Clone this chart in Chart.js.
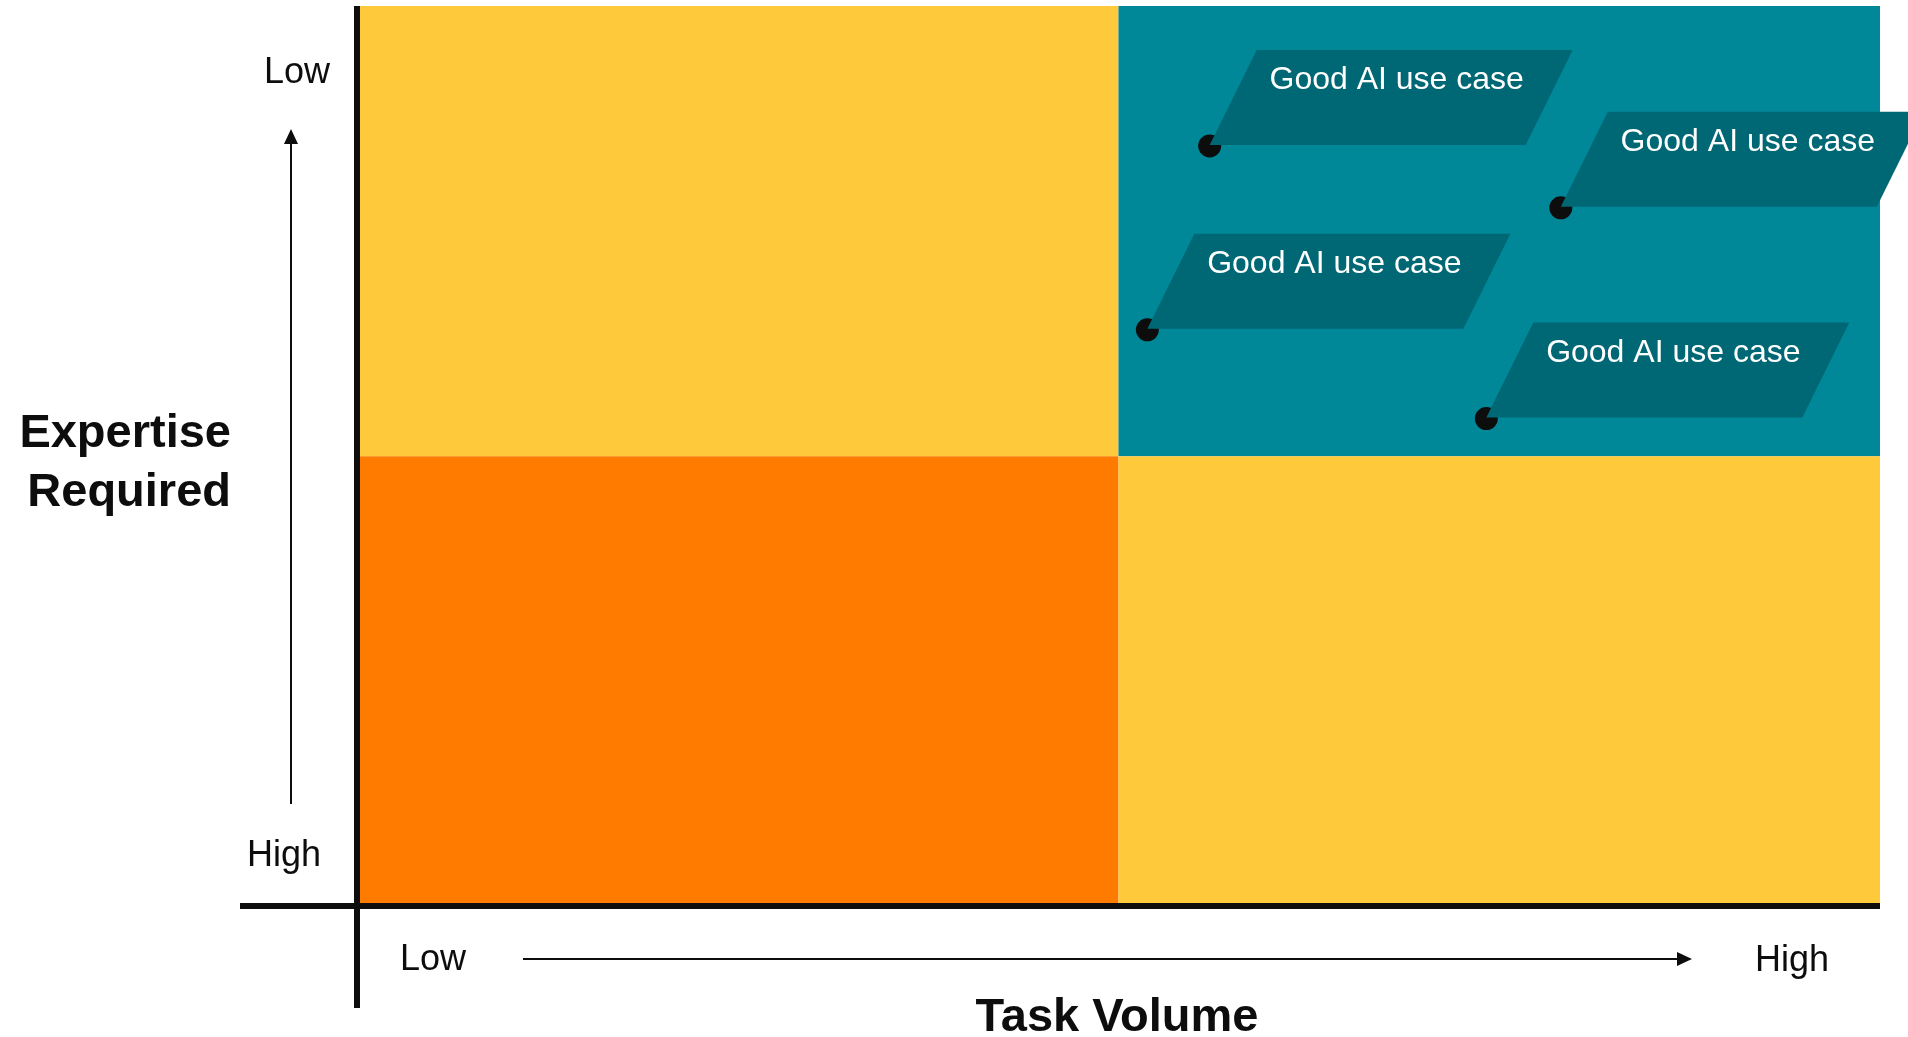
<!DOCTYPE html>
<html>
<head>
<meta charset="utf-8">
<title>Task Volume vs Expertise Required</title>
<script src="https://cdn.jsdelivr.net/npm/chart.js@4.4.1/dist/chart.umd.min.js"></script>
<style>
  html, body { margin: 0; padding: 0; background: #ffffff; }
  canvas { display: block; }
</style>
</head>
<body>
<canvas id="matrix" width="1908" height="1037"></canvas>
<script>
// task volume (0 = low, 100 = high) and expertise required (0 = low at top, 100 = high at bottom)
const pointLabels = ["Good AI use case", "Good AI use case", "Good AI use case", "Good AI use case"];
const taskVolume = [55.9, 79.0, 51.8, 74.1];
const expertise = [15.6, 22.5, 36.1, 46.0];

const xTickLabels = ["Low", "High"];
const yTickLabels = ["Low", "High"];
const xTitle = "Task Volume";
const yTitle = ["Expertise", "Required"];

// quadrants: [xFrom, xTo, yFrom, yTo]
const quadrants = [
  [0, 49.9, 0, 50.2],
  [49.9, 100, 0, 50.2],
  [0, 49.9, 50.2, 100],
  [49.9, 100, 50.2, 100],
];
const quadrantColors = ["#fec93a", "#008899", "#ff7b00", "#fec93a"];

const colors = {
  ink: "#0d0d0d",
  labelBox: "#006774",
  labelText: "#ffffff",
};
const fontFamily = "'Liberation Sans', Arial, sans-serif";

const quadrantPlugin = {
  id: "quadrants",
  beforeDatasetsDraw(chart) {
    const ctx = chart.ctx;
    const x = chart.scales.x;
    const y = chart.scales.y;
    ctx.save();
    quadrants.forEach(function (q, i) {
      const x0 = x.getPixelForValue(q[0]);
      const x1 = x.getPixelForValue(q[1]);
      const y0 = y.getPixelForValue(q[2]);
      const y1 = y.getPixelForValue(q[3]);
      ctx.fillStyle = quadrantColors[i];
      ctx.fillRect(Math.min(x0, x1), Math.min(y0, y1), Math.abs(x1 - x0), Math.abs(y1 - y0));
    });
    ctx.restore();
  },
};

// parallelogram callouts sitting on each point
const calloutPlugin = {
  id: "callouts",
  afterDatasetsDraw(chart) {
    const ctx = chart.ctx;
    const meta = chart.getDatasetMeta(0);
    ctx.save();
    meta.data.forEach(function (pt, i) {
      const px = pt.x;
      const py = pt.y;
      ctx.fillStyle = colors.labelBox;
      ctx.beginPath();
      ctx.moveTo(px, py - 1);
      ctx.lineTo(px + 47, py - 96);
      ctx.lineTo(px + 363, py - 96);
      ctx.lineTo(px + 316, py - 1);
      ctx.closePath();
      ctx.fill();
      ctx.fillStyle = colors.labelText;
      ctx.font = "32px " + fontFamily;
      ctx.textAlign = "center";
      ctx.textBaseline = "alphabetic";
      ctx.fillText(pointLabels[i], px + 187, py - 57);
    });
    ctx.restore();
  },
};

const axesPlugin = {
  id: "axesDecor",
  afterDraw(chart) {
    const ctx = chart.ctx;
    const area = chart.chartArea;
    ctx.save();
    ctx.strokeStyle = colors.ink;
    ctx.fillStyle = colors.ink;

    // main axis lines
    ctx.lineWidth = 6;
    ctx.beginPath();
    ctx.moveTo(area.left - 3, area.top);
    ctx.lineTo(area.left - 3, 1008);
    ctx.stroke();
    ctx.beginPath();
    ctx.moveTo(240, area.bottom + 3);
    ctx.lineTo(area.right, area.bottom + 3);
    ctx.stroke();

    // direction arrows
    ctx.lineWidth = 2;
    ctx.beginPath();
    ctx.moveTo(291, 804);
    ctx.lineTo(291, 140);
    ctx.stroke();
    ctx.beginPath();
    ctx.moveTo(291, 129);
    ctx.lineTo(284, 144);
    ctx.lineTo(298, 144);
    ctx.closePath();
    ctx.fill();

    ctx.beginPath();
    ctx.moveTo(523, 959);
    ctx.lineTo(1680, 959);
    ctx.stroke();
    ctx.beginPath();
    ctx.moveTo(1692, 959);
    ctx.lineTo(1677, 952);
    ctx.lineTo(1677, 966);
    ctx.closePath();
    ctx.fill();

    // tick labels
    ctx.font = "36px " + fontFamily;
    ctx.textBaseline = "alphabetic";
    ctx.textAlign = "center";
    ctx.fillText(yTickLabels[0], 297, 83);
    ctx.fillText(yTickLabels[1], 284, 866);
    ctx.textAlign = "left";
    ctx.fillText(xTickLabels[0], 400, 970);
    ctx.fillText(xTickLabels[1], 1755, 971);

    // titles
    ctx.font = "bold 47px " + fontFamily;
    ctx.textAlign = "right";
    ctx.fillText(yTitle[0], 231, 447);
    ctx.fillText(yTitle[1], 231, 506);
    ctx.textAlign = "center";
    ctx.fillText(xTitle, (area.left + area.right) / 2 - 3, 1031);
    ctx.restore();
  },
};

const points = taskVolume.map(function (v, i) {
  return { x: v, y: expertise[i] };
});

new Chart(document.getElementById("matrix").getContext("2d"), {
  type: "scatter",
  data: {
    datasets: [
      {
        data: points,
        backgroundColor: colors.ink,
        borderWidth: 0,
        pointRadius: 11.5,
        pointHoverRadius: 11.5,
        clip: false,
      },
    ],
  },
  options: {
    responsive: false,
    animation: false,
    events: [],
    layout: {
      autoPadding: false,
      padding: { left: 360, right: 28, top: 6, bottom: 134 },
    },
    plugins: {
      legend: { display: false },
      tooltip: { enabled: false },
    },
    scales: {
      x: { type: "linear", min: 0, max: 100, display: false },
      y: { type: "linear", min: 0, max: 100, reverse: true, display: false },
    },
  },
  plugins: [quadrantPlugin, calloutPlugin, axesPlugin],
});
</script>
</body>
</html>
